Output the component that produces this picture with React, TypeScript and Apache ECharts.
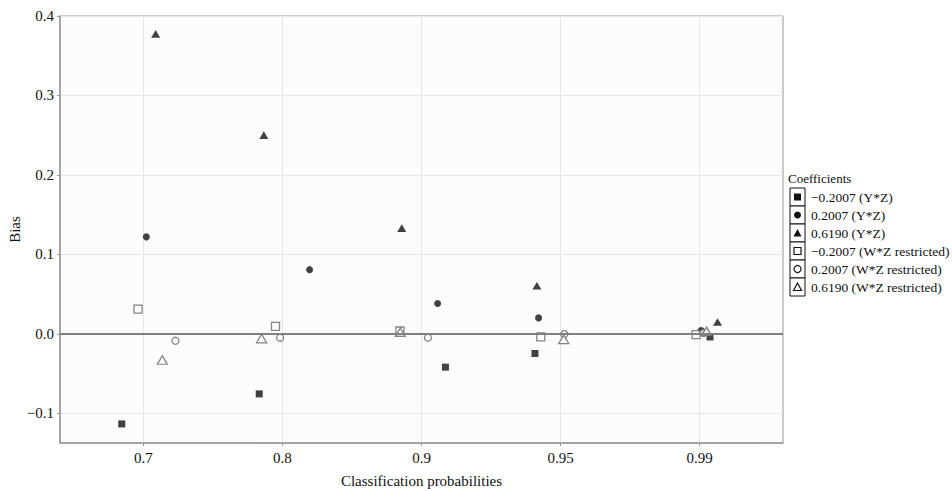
import React, { useEffect, useRef } from "react";
import * as echarts from "echarts";

const tickPositions = [0, 1, 2, 3, 4];
const tickLabels = ["0.7", "0.8", "0.9", "0.95", "0.99"];
const yTicks = [-0.1, 0, 0.1, 0.2, 0.3, 0.4];

const seriesNames = [
  "\u22120.2007 (Y*Z)",
  "0.2007 (Y*Z)",
  "0.6190 (Y*Z)",
  "\u22120.2007 (W*Z restricted)",
  "0.2007 (W*Z restricted)",
  "0.6190 (W*Z restricted)",
];

// x = jittered position on the classification-probability axis (0 = 0.7, 1 = 0.8, 2 = 0.9, 3 = 0.95, 4 = 0.99)
const negYZ: [number, number][] = [[-0.156, -0.1135], [0.833, -0.0757], [2.172, -0.042], [2.816, -0.0248], [4.075, -0.004]];
const posYZ: [number, number][] = [[0.021, 0.122], [1.195, 0.0807], [2.116, 0.038], [2.842, 0.02], [4.011, 0.004]];
const bigYZ: [number, number][] = [[0.088, 0.3775], [0.866, 0.25], [1.858, 0.133], [2.83, 0.0605], [4.129, 0.0148]];
const negWZ: [number, number][] = [[-0.039, 0.031], [0.95, 0.0093], [1.845, 0.0035], [2.858, -0.004], [3.975, -0.001]];
const posWZ: [number, number][] = [[0.23, -0.0088], [0.983, -0.005], [2.046, -0.005], [3.027, -0.0005], [4.027, 0.001]];
const bigWZ: [number, number][] = [[0.136, -0.033], [0.85, -0.006], [1.848, 0.002], [3.023, -0.007], [4.05, 0.003]];

const FONT = "Liberation Serif, serif";
const FILL = "#111";
const OPEN = "#666";

export default function App() {
  const ref = useRef<HTMLDivElement>(null);
  useEffect(() => {
    if (!ref.current) return;
    const chart = echarts.init(ref.current, null, { renderer: "svg" });

    const styles = [
      { symbol: "rect", size: 7, filled: true },
      { symbol: "circle", size: 7, filled: true },
      { symbol: "triangle", size: 9, filled: true },
      { symbol: "rect", size: 8, filled: false },
      { symbol: "circle", size: 7, filled: false },
      { symbol: "triangle", size: 10, filled: false },
    ];
    const datas = [negYZ, posYZ, bigYZ, negWZ, posWZ, bigWZ];

    const series: any[] = datas.map((d, i) => ({
      type: "scatter",
      name: seriesNames[i],
      data: d,
      symbol: styles[i].symbol,
      symbolSize: styles[i].symbol === "triangle" ? [styles[i].size, styles[i].size * 0.85] : styles[i].size,
      itemStyle: styles[i].filled
        ? { color: FILL }
        : { color: "#fff", borderColor: OPEN, borderWidth: 1.3 },
      z: styles[i].filled ? 3 : 4,
    }));
    series.push({
      type: "line",
      data: [],
      markLine: {
        silent: true,
        symbol: "none",
        label: { show: false },
        lineStyle: { color: "#808080", width: 2, type: "solid" },
        data: [{ yAxis: 0 }],
      },
      z: 2,
    });

    // legend drawn with graphics (boxed keys)
    const lgX = 790;
    const lgTop = 188;
    const rowH = 18;
    const boxW = 15;
    const graphics: any[] = [
      {
        type: "text",
        left: 788,
        top: 172,
        style: { text: "Coefficients", font: `13px ${FONT}`, fill: "#111" },
      },
    ];
    styles.forEach((s, i) => {
      const cy = lgTop + rowH * i + rowH / 2;
      const cx = lgX + boxW / 2;
      graphics.push({
        type: "rect",
        shape: { x: lgX, y: lgTop + rowH * i, width: boxW, height: rowH },
        style: { fill: "#fff", stroke: "#111", lineWidth: 1 },
      });
      const st = s.filled
        ? { fill: FILL }
        : { fill: "#fff", stroke: "#111", lineWidth: 1.2 };
      if (s.symbol === "rect") {
        const w = 7;
        graphics.push({ type: "rect", shape: { x: cx - w / 2, y: cy - w / 2, width: w, height: w }, style: st, z: 10 });
      } else if (s.symbol === "circle") {
        graphics.push({ type: "circle", shape: { cx, cy, r: 3.5 }, style: st, z: 10 });
      } else {
        graphics.push({
          type: "polygon",
          shape: { points: [[cx, cy - 4], [cx + 4, cy + 3.5], [cx - 4, cy + 3.5]] },
          style: st,
          z: 10,
        });
      }
      graphics.push({
        type: "text",
        x: 811,
        y: cy,
        style: { text: seriesNames[i], font: `13.5px ${FONT}`, fill: "#111", verticalAlign: "middle" },
      });
    });

    chart.setOption({
      animation: false,
      backgroundColor: "#fff",
      grid: {
        left: 60,
        right: 169,
        top: 16,
        bottom: 48,
        containLabel: false,
        outerBoundsMode: "none",
        show: true,
        backgroundColor: "#fcfcfc",
        borderColor: "#999",
        borderWidth: 1,
      },
      xAxis: {
        type: "value",
        min: -0.6,
        max: 4.6,
        name: "Classification probabilities",
        nameLocation: "middle",
        nameGap: 30,
        nameMoveOverlap: false,
        nameTextStyle: { fontFamily: FONT, fontSize: 15, color: "#111" },
        axisLine: { show: true, onZero: false, lineStyle: { color: "#999", width: 1.5 } },
        axisTick: { show: true, customValues: tickPositions, length: 3, lineStyle: { color: "#999" } },
        axisLabel: {
          customValues: tickPositions,
          formatter: (v: number) => {
            const k = tickPositions.findIndex((p) => Math.abs(p - v) < 1e-6);
            return k >= 0 ? tickLabels[k] : "";
          },
          fontFamily: FONT,
          fontSize: 15,
          color: "#111",
          margin: 7,
        },
        splitLine: { show: true, lineStyle: { color: "#e6e6e6", width: 1 } },
      },
      yAxis: {
        type: "value",
        min: -0.1375,
        max: 0.4,
        name: "Bias",
        nameLocation: "middle",
        nameGap: 38,
        nameMoveOverlap: false,
        nameTextStyle: { fontFamily: FONT, fontSize: 15, color: "#111" },
        axisLine: { show: true, onZero: false, lineStyle: { color: "#999", width: 1.5 } },
        axisTick: { show: true, customValues: yTicks, length: 3, lineStyle: { color: "#999" } },
        axisLabel: {
          customValues: yTicks,
          formatter: (v: number) => (Math.abs(v) < 1e-9 ? "0.0" : v < 0 ? "\u2212" + Math.abs(v).toFixed(1) : v.toFixed(1)),
          fontFamily: FONT,
          fontSize: 15,
          color: "#111",
          margin: 6,
        },
        splitLine: { show: true, lineStyle: { color: "#e6e6e6", width: 1 } },
      },
      graphic: graphics,
      series,
    });
    return () => chart.dispose();
  }, []);
  return (
    <div
      ref={ref}
      style={{ position: "fixed", left: 0, top: 0, width: 952, height: 491, background: "#fff" }}
    />
  );
}
